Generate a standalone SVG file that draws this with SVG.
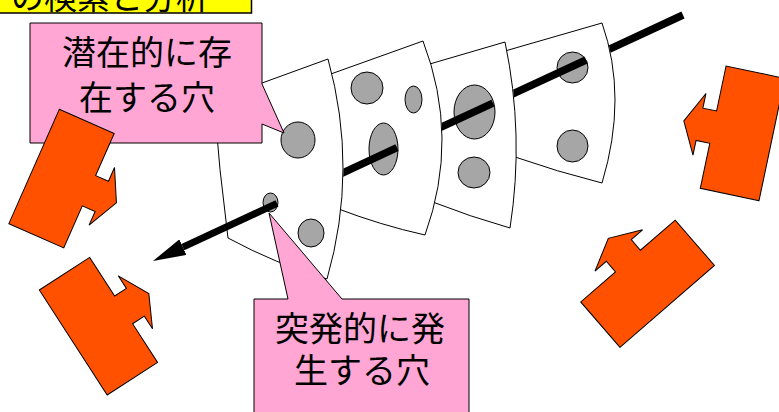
<svg xmlns="http://www.w3.org/2000/svg" width="779" height="412" viewBox="0 0 779 412">
<style>
.slice{fill:#fff;stroke:#000;stroke-width:1}
.hole{fill:#a6a6a6;stroke:#000;stroke-width:1}
.rod{stroke:#000;stroke-width:7.5;fill:none;stroke-linecap:butt}
.callout{fill:#ffa6d4;stroke:#000;stroke-width:1}
.hazard{fill:#ff5100;stroke:#000;stroke-width:1;stroke-linejoin:miter}
.label{font-family:"Noto Sans CJK JP","Noto Sans CJK SC",sans-serif;font-size:34px;fill:#000;text-anchor:middle}
.banner{fill:#ffff00;stroke:#000;stroke-width:1.5}
.cut{fill:#000;stroke:#000;stroke-width:1}
</style>
<defs>
  <!-- cheese slice outlines, front (1) to back (4) -->
  <path id="outline-1" d="M214,100.5 L328,59 Q358.5,169 327,279 Q276,264 228,238 Q219,170 214,100.5 Z"/>
  <path id="outline-2" d="M328,75 L423,41 Q460,138 425,235 Q380,225 336,208 Z"/>
  <path id="outline-3" d="M428,64.5 L505,42 Q524.5,135 510,228 Q471,217 430,201 Z"/>
  <path id="outline-4" d="M505,51 L602,23 Q628,97 602,183 Q558,172 512,156 Z"/>
  <!-- hazard block: body with an arrow pushing out of one long side -->
  <path id="block" d="M0,0 H60 V46 H74 V31 L90,62.5 L74,94 V79 H60 V125 H0 Z"/>
  <marker id="head" markerUnits="userSpaceOnUse" markerWidth="33" markerHeight="17" viewBox="0 0 33 17" refX="0" refY="8.5" orient="auto">
    <path d="M0,0 L33,8.5 L0,17 Z" fill="#000"/>
  </marker>
  <!-- each rod piece is hidden by the slice standing in front of it -->
  <mask id="behind-4" maskUnits="userSpaceOnUse" x="0" y="0" width="779" height="412">
    <rect width="779" height="412" fill="#fff"/><use href="#outline-4" class="cut"/>
  </mask>
  <mask id="behind-3" maskUnits="userSpaceOnUse" x="0" y="0" width="779" height="412">
    <rect width="779" height="412" fill="#fff"/><use href="#outline-3" class="cut"/>
  </mask>
  <mask id="behind-2" maskUnits="userSpaceOnUse" x="0" y="0" width="779" height="412">
    <rect width="779" height="412" fill="#fff"/><use href="#outline-2" class="cut"/>
  </mask>
  <mask id="behind-1" maskUnits="userSpaceOnUse" x="0" y="0" width="779" height="412">
    <rect width="779" height="412" fill="#fff"/><use href="#outline-1" class="cut"/>
  </mask>
</defs>

<g id="title">
  <rect class="banner" x="-5" y="-30" width="256.5" height="43"/>
  <text class="label" x="11" y="9" style="text-anchor:start;font-size:33px">の検索と分析</text>
</g>

<g id="slice-4">
  <use href="#outline-4" class="slice"/>
  <ellipse class="hole" cx="572.5" cy="67.5" rx="15.5" ry="15.5"/>
  <ellipse class="hole" cx="572.5" cy="146" rx="15.5" ry="16"/>
</g>
<g id="slice-3">
  <use href="#outline-3" class="slice"/>
  <ellipse class="hole" cx="474.5" cy="112" rx="20.5" ry="27"/>
  <ellipse class="hole" cx="474" cy="172.5" rx="16" ry="15.5"/>
</g>
<g id="slice-2">
  <use href="#outline-2" class="slice"/>
  <ellipse class="hole" cx="367" cy="88" rx="16" ry="16"/>
  <ellipse class="hole" cx="413.5" cy="99.5" rx="8.5" ry="13.5"/>
  <ellipse class="hole" cx="383.5" cy="149" rx="14.5" ry="26"/>
</g>
<g id="slice-1">
  <use href="#outline-1" class="slice"/>
  <ellipse class="hole" cx="298" cy="140" rx="17" ry="18"/>
  <ellipse class="hole" cx="270.5" cy="202.5" rx="7.5" ry="9.5"/>
  <ellipse class="hole" cx="311" cy="233" rx="13" ry="14"/>
</g>

<g id="connectors">
  <line class="rod" x1="683" y1="15" x2="595" y2="55.8" mask="url(#behind-4)"/>
  <line class="rod" x1="586" y1="60" x2="500" y2="99.9" mask="url(#behind-3)"/>
  <line class="rod" x1="493" y1="103.2" x2="425" y2="134.7" mask="url(#behind-2)"/>
  <line class="rod" x1="397" y1="147.7" x2="330" y2="178.8" mask="url(#behind-1)"/>
  <line class="rod" x1="277" y1="203.4" x2="182.9" y2="247.1" marker-end="url(#head)" style="stroke-width:7"/>
</g>

<g id="callout-latent">
  <path class="callout" d="M30,23 H262 V84 L284,133 L262,124 V143 H30 Z"/>
  <text class="label" x="147" y="64.5">潜在的に存</text>
  <text class="label" x="147" y="109.5">在する穴</text>
</g>
<g id="callout-sudden">
  <path class="callout" d="M254,299 H288 L269,213 L342,299 H469 V420 H254 Z"/>
  <text class="label" x="360" y="340.5">突発的に発</text>
  <text class="label" x="362" y="382.5">生する穴</text>
</g>

<g id="hazard-1"><use href="#block" class="hazard" transform="translate(59.3,109.3) rotate(23.8)"/></g>
<g id="hazard-2"><use href="#block" class="hazard" transform="translate(39.3,290) rotate(-32.9)"/></g>
<g id="hazard-3"><use href="#block" class="hazard" transform="translate(759,200.7) rotate(191.9)"/></g>
<g id="hazard-4"><use href="#block" class="hazard" transform="translate(620,347.3) rotate(229.1)"/></g>
</svg>
